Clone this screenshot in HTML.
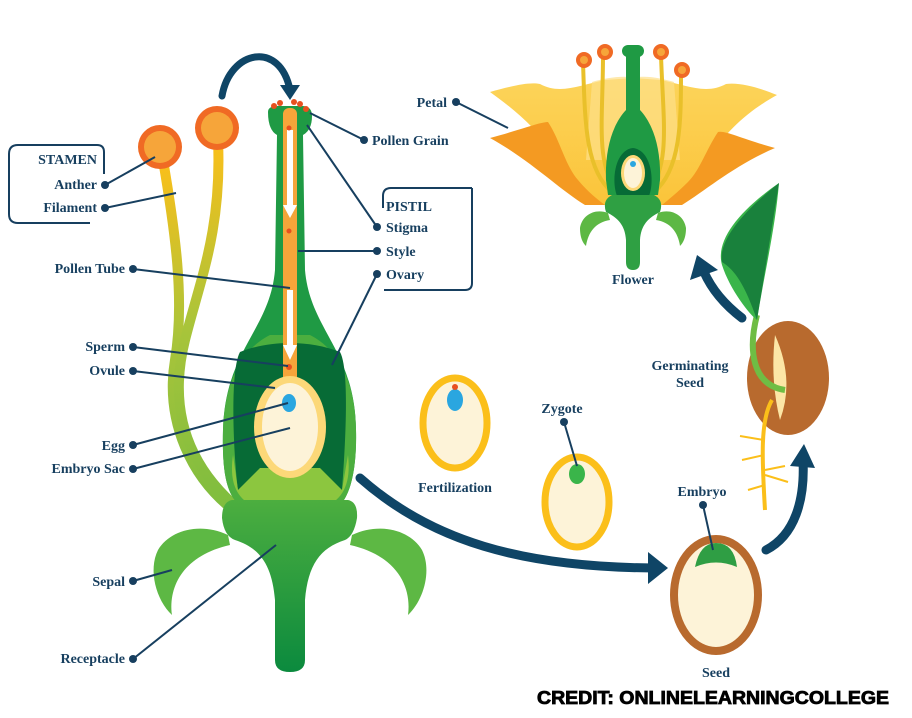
<!DOCTYPE html>
<html><head><meta charset="utf-8"><style>
html,body{margin:0;padding:0;background:#fff}
svg{display:block}
.t{font-family:"Liberation Serif",serif;font-weight:bold;font-size:14px;fill:#173f5f}
.l{stroke:#173f5f;stroke-width:2;fill:none}
.d{fill:#173f5f}
</style></head><body>
<svg width="912" height="718" viewBox="0 0 912 718" xmlns="http://www.w3.org/2000/svg">
<defs>
<linearGradient id="fil" x1="0" y1="0" x2="0" y2="1"><stop offset="0" stop-color="#fbbf1a"/><stop offset="0.5" stop-color="#a9c43a"/><stop offset="1" stop-color="#7dbd3f"/></linearGradient>
<linearGradient id="pet" x1="0" y1="0" x2="0" y2="1"><stop offset="0" stop-color="#fcd45a"/><stop offset="1" stop-color="#fbc43a"/></linearGradient>
<linearGradient id="stem" x1="0" y1="0" x2="0" y2="1"><stop offset="0" stop-color="#4cae3f"/><stop offset="1" stop-color="#0b8a3e"/></linearGradient>
</defs>

<!-- filaments -->
<path d="M163,160 C175,230 185,300 175,360 C165,420 190,480 240,515" stroke="url(#fil)" stroke-width="10" fill="none"/>
<path d="M218,140 C222,230 200,280 185,340 C170,400 180,460 240,510" stroke="url(#fil)" stroke-width="10" fill="none"/>
<!-- anthers -->
<g fill="#f06a24">
<circle cx="160" cy="147" r="22"/><circle cx="217" cy="128" r="22"/>
</g>
<circle cx="160" cy="147" r="16" fill="#f6a53a"/><circle cx="217" cy="128" r="16" fill="#f6a53a"/>

<!-- pistil body -->
<path d="M268,112 Q268,106 278,106 L302,106 Q312,106 312,116 Q312,130 303,135 L305,270 C310,330 355,350 356,430 C357,470 350,495 340,505 L240,505 C226,495 222,470 223,430 C225,350 270,330 275,270 L277,135 Q268,130 268,112 Z" fill="#1f9a44"/>
<path d="M223,430 C225,370 250,345 270,335 L310,335 C330,345 355,370 356,430 C357,470 350,495 340,505 L240,505 C226,495 222,470 223,430 Z" fill="#4cae3f"/>
<path d="M240,352 C270,340 310,340 340,352 C350,370 345,450 342,490 L320,470 L290,478 L260,470 L238,490 C233,450 230,370 240,352 Z" fill="#076b36"/>
<path d="M233,455 L238,490 L260,468 L320,468 L342,490 L348,455 C352,490 340,512 290,514 C240,512 228,490 233,455 Z" fill="#8cc63f"/>
<!-- receptacle + stem -->
<path d="M232,500 L348,500 Q358,502 357,518 Q354,536 345,540 C320,548 308,565 305,600 L305,660 Q305,672 290,672 Q275,672 275,660 L275,600 C272,565 260,548 235,540 Q224,536 222,518 Q222,502 232,500 Z" fill="url(#stem)"/>
<!-- sepals -->
<path d="M228,535 C200,522 170,530 158,550 C148,570 156,600 172,615 C168,585 185,555 230,545 Z" fill="#5db844"/>
<path d="M352,535 C380,522 410,530 422,550 C432,570 424,600 408,615 C412,585 395,555 350,545 Z" fill="#5db844"/>
<!-- pollen tube -->
<rect x="283" y="108" width="14" height="275" rx="6" fill="#f6a53a"/>
<path d="M287,130 L287,205 L283,205 L290,218 L297,205 L293,205 L293,130 Z" fill="#fff"/>
<path d="M287,290 L287,345 L283,345 L290,360 L297,345 L293,345 L293,290 Z" fill="#fff"/>
<circle cx="289" cy="128" r="2.5" fill="#e8501f"/><circle cx="289" cy="231" r="2.5" fill="#e8501f"/><circle cx="289" cy="367" r="3" fill="#e8501f"/>
<g fill="#e8501f"><circle cx="274" cy="106" r="3"/><circle cx="280" cy="103" r="3"/><circle cx="294" cy="102" r="3"/><circle cx="300" cy="104" r="3"/><circle cx="306" cy="109" r="3"/></g>
<!-- embryo sac -->
<ellipse cx="290" cy="427" rx="36" ry="51" fill="#fcd878"/>
<ellipse cx="290" cy="427" rx="28" ry="44" fill="#fdf3d8"/>
<ellipse cx="289" cy="403" rx="7" ry="9" fill="#2aa6e0"/>

<!-- top arrow -->
<path d="M222,96 C230,50 280,40 290,90" stroke="#0f4566" stroke-width="7" fill="none" stroke-linecap="round"/>
<path d="M280,85 L290,100 L300,85 Z" fill="#0f4566"/>

<!-- STAMEN box -->
<path d="M90,223 L18,223 Q9,223 9,214 L9,154 Q9,145 18,145 L97,145 Q104,145 104,152 L104,174" class="l"/>
<text class="t" x="97" y="164" text-anchor="end">STAMEN</text>
<text class="t" x="97" y="189" text-anchor="end">Anther</text>
<text class="t" x="97" y="212" text-anchor="end">Filament</text>
<circle class="d" cx="105" cy="185" r="4"/><path class="l" d="M105,185 L155,157"/>
<circle class="d" cx="105" cy="208" r="4"/><path class="l" d="M105,208 L176,193"/>

<text class="t" x="125" y="273" text-anchor="end">Pollen Tube</text>
<circle class="d" cx="133" cy="269" r="4"/><path class="l" d="M133,269 L290,288"/>
<text class="t" x="125" y="351" text-anchor="end">Sperm</text>
<circle class="d" cx="133" cy="347" r="4"/><path class="l" d="M133,347 L288,366"/>
<text class="t" x="125" y="375" text-anchor="end">Ovule</text>
<circle class="d" cx="133" cy="371" r="4"/><path class="l" d="M133,371 L275,388"/>
<text class="t" x="125" y="450" text-anchor="end">Egg</text>
<circle class="d" cx="133" cy="445" r="4"/><path class="l" d="M133,445 L288,403"/>
<text class="t" x="125" y="473" text-anchor="end">Embryo Sac</text>
<circle class="d" cx="133" cy="469" r="4"/><path class="l" d="M133,469 L290,428"/>
<text class="t" x="125" y="586" text-anchor="end">Sepal</text>
<circle class="d" cx="133" cy="581" r="4"/><path class="l" d="M133,581 L172,570"/>
<text class="t" x="125" y="663" text-anchor="end">Receptacle</text>
<circle class="d" cx="133" cy="659" r="4"/><path class="l" d="M133,659 L276,545"/>

<circle class="d" cx="364" cy="140" r="4"/><path class="l" d="M364,140 L310,113"/>
<text class="t" x="372" y="145">Pollen Grain</text>
<path d="M383,208 L383,196 Q383,188 391,188 L472,188" class="l"/>
<path d="M472,188 L472,283 Q472,290 465,290 L384,290" class="l"/>
<text class="t" x="386" y="211">PISTIL</text>
<text class="t" x="386" y="232">Stigma</text>
<text class="t" x="386" y="256">Style</text>
<text class="t" x="386" y="279">Ovary</text>
<circle class="d" cx="377" cy="227" r="4"/><path class="l" d="M377,227 L307,125"/>
<circle class="d" cx="377" cy="251" r="4"/><path class="l" d="M377,251 L298,251"/>
<circle class="d" cx="377" cy="274" r="4"/><path class="l" d="M377,274 L332,365"/>

<!-- big arrow -->
<path d="M360,478 C430,540 520,568 660,568" stroke="#0f4566" stroke-width="9" fill="none" stroke-linecap="round"/>
<path d="M648,552 L668,568 L648,584 Z" fill="#0f4566"/>

<!-- fertilization -->
<ellipse cx="455" cy="423" rx="32" ry="45" fill="#fdf3d8" stroke="#fbbf1a" stroke-width="7"/>
<ellipse cx="455" cy="400" rx="8" ry="11" fill="#2aa6e0"/>
<circle cx="455" cy="387" r="3" fill="#e8501f"/>
<text class="t" x="455" y="492" text-anchor="middle">Fertilization</text>
<!-- zygote -->
<ellipse cx="577" cy="502" rx="32" ry="45" fill="#fdf3d8" stroke="#fbbf1a" stroke-width="7"/>
<ellipse cx="577" cy="474" rx="8" ry="10" fill="#3ab54a"/>
<text class="t" x="562" y="413" text-anchor="middle">Zygote</text>
<circle class="d" cx="564" cy="422" r="4"/><path class="l" d="M564,422 L577,466"/>
<!-- seed -->
<ellipse cx="716" cy="595" rx="42" ry="56" fill="#fdf3d8" stroke="#b86a2e" stroke-width="8"/>
<path d="M695,567 Q700,543 716,543 Q734,543 737,567 Q716,558 695,567 Z" fill="#2f9e44"/>
<text class="t" x="702" y="496" text-anchor="middle">Embryo</text>
<circle class="d" cx="703" cy="505" r="4"/><path class="l" d="M703,505 L713,550"/>
<text class="t" x="716" y="677" text-anchor="middle">Seed</text>
<!-- arrow up -->
<path d="M766,550 C795,535 805,500 803,460" stroke="#0f4566" stroke-width="9" fill="none" stroke-linecap="round"/>
<path d="M790,466 L804,444 L815,468 Z" fill="#0f4566"/>

<!-- germinating seed -->
<ellipse cx="788" cy="378" rx="41" ry="57" fill="#b86a2e"/>
<path d="M775,335 Q770,380 780,420 Q795,380 775,335 Z" fill="#fce6a6"/>
<path d="M772,400 C760,420 762,460 765,510" stroke="#fbbf1a" stroke-width="4" fill="none"/>
<path d="M764,440 L740,436 M764,455 L742,460 M765,470 L785,466 M765,485 L748,490 M765,475 L788,482" stroke="#fbbf1a" stroke-width="2" fill="none"/>
<path d="M757,315 C748,350 752,385 785,390" stroke="#6fbd44" stroke-width="6" fill="none"/>
<path d="M779,183 C740,210 715,240 722,265 C730,290 750,315 757,320 C765,270 775,230 779,183 Z" fill="#3ab54a"/>
<path d="M779,183 C745,210 718,240 722,262 C735,270 745,285 757,320 Z" fill="#0c6b36" opacity="0.7"/>
<text class="t" x="690" y="370" text-anchor="middle">Germinating</text>
<text class="t" x="690" y="387" text-anchor="middle">Seed</text>
<!-- arrow -->
<path d="M742,318 C725,305 712,290 704,272" stroke="#0f4566" stroke-width="9" fill="none" stroke-linecap="round"/>
<path d="M690,280 L697,255 L718,270 Z" fill="#0f4566"/>

<!-- flower -->
<path d="M490,92 C515,85 530,82 540,84 C560,95 580,85 605,80 L633,78 L661,80 C686,85 706,95 726,84 C740,82 760,88 777,95 C750,110 725,130 700,170 C690,190 680,200 670,205 L596,205 C586,200 576,190 566,170 C540,130 515,110 490,92 Z" fill="url(#pet)"/>
<path d="M592,82 C605,78 625,75 633,78 C645,75 660,78 674,82 L680,160 L586,160 Z" fill="#fde08a" opacity="0.7"/>
<path d="M490,138 C520,130 540,122 548,122 C560,140 565,165 578,180 C588,192 598,200 605,205 L585,205 C560,190 530,160 490,138 Z" fill="#f49a22"/>
<path d="M775,148 C745,140 725,130 718,132 C706,150 700,170 688,182 C678,192 668,200 662,205 L682,205 C706,190 735,165 775,148 Z" fill="#f49a22"/>
<path d="M583,62 C585,120 585,170 612,192 M603,55 C603,120 595,165 618,192 M661,55 C663,120 671,165 648,192 M681,72 C681,120 681,170 654,192" stroke="#e9c02a" stroke-width="4" fill="none"/>
<path d="M626,55 L626,110 C612,125 605,150 606,180 L608,195 L658,195 L660,180 C661,150 654,125 640,110 L640,55 Z" fill="#1f9a44"/>
<rect x="622" y="45" width="22" height="12" rx="6" fill="#1f9a44"/>
<path d="M633,148 C615,150 611,180 617,196 L649,196 C655,180 651,150 633,148 Z" fill="#076b36"/>
<ellipse cx="633" cy="173" rx="12" ry="18" fill="#fcd878"/>
<ellipse cx="633" cy="173" rx="9" ry="15" fill="#fdf3d8"/>
<circle cx="633" cy="164" r="3" fill="#2aa6e0"/>
<g fill="#f06a24"><circle cx="584" cy="60" r="8"/><circle cx="605" cy="52" r="8"/><circle cx="661" cy="52" r="8"/><circle cx="682" cy="70" r="8"/></g>
<g fill="#f6a53a"><circle cx="584" cy="60" r="4"/><circle cx="605" cy="52" r="4"/><circle cx="661" cy="52" r="4"/><circle cx="682" cy="70" r="4"/></g>
<path d="M612,195 L654,195 Q664,200 660,212 C648,218 641,225 640,240 L640,262 Q640,270 633,270 Q626,270 626,262 L626,240 C625,225 618,218 606,212 Q602,200 612,195 Z" fill="#2fa043"/>
<path d="M608,213 C595,208 582,215 580,228 C580,238 583,243 586,246 C588,232 596,222 610,220 Z" fill="#5db844"/>
<path d="M658,213 C671,208 684,215 686,228 C686,238 683,243 680,246 C678,232 670,222 656,220 Z" fill="#5db844"/>
<text class="t" x="633" y="284" text-anchor="middle">Flower</text>
<text class="t" x="447" y="107" text-anchor="end">Petal</text>
<circle class="d" cx="456" cy="102" r="4"/><path class="l" d="M456,102 L508,128"/>

<text x="537" y="704" font-family="Liberation Sans,sans-serif" font-weight="900" font-size="18" fill="#000" textLength="352" lengthAdjust="spacingAndGlyphs" stroke="#000" stroke-width="0.8">CREDIT: ONLINELEARNINGCOLLEGE</text>
</svg>
</body></html>
